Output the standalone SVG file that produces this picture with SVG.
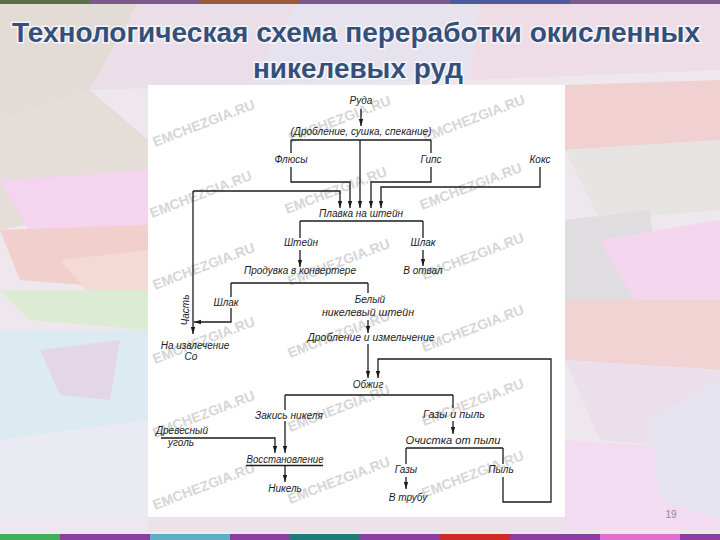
<svg xmlns="http://www.w3.org/2000/svg" width="720" height="540" viewBox="0 0 720 540">
<style>
.t{font-family:"Liberation Sans","DejaVu Sans",sans-serif;font-style:italic;font-size:10px;fill:#1c1c1c;text-anchor:middle}
.ln{fill:none;stroke:#1c1c1c;stroke-width:1.3}
.ar{fill:none;stroke:#1c1c1c;stroke-width:1.3;marker-end:url(#ah)}
.wm{font-family:"Liberation Sans","DejaVu Sans",sans-serif;font-weight:bold;font-size:14px;fill:#c9c9c9;opacity:0.75}
.ttl{font-family:"Liberation Sans Narrow","Liberation Sans","DejaVu Sans",sans-serif;font-weight:bold;font-size:28px;fill:#34507a;text-anchor:middle;stroke:#ffffff;stroke-width:3;stroke-opacity:0.7;paint-order:stroke}
</style>
<defs>
<marker id="ah" markerWidth="8" markerHeight="8" refX="7" refY="4" orient="auto" markerUnits="userSpaceOnUse">
<path d="M0,1.8 L7,4 L0,6.2 Z" fill="#1c1c1c"/>
</marker>
<clipPath id="panel"><rect x="148" y="85" width="417" height="432"/></clipPath>
</defs>

<g id="background">
<rect x="0" y="0" width="720" height="540" fill="#eee8ee"/>
<polygon points="0,0 140,0 90,90 0,120" fill="#e3dbd6"/>
<polygon points="140,0 300,0 250,85 90,90" fill="#eadfe8"/>
<polygon points="300,0 480,0 470,80 250,85" fill="#e6e2ee"/>
<polygon points="480,0 720,0 720,70 470,80" fill="#eedde6"/>
<polygon points="0,120 90,90 148,140 148,200 0,230" fill="#e4ddd8"/>
<polygon points="0,180 148,170 148,240 40,250" fill="#f4d4ee"/>
<polygon points="0,230 148,225 148,290 20,280" fill="#f0cfcc"/>
<polygon points="60,260 148,250 148,300 90,295" fill="#f3dad5"/>
<polygon points="0,290 148,290 148,330 30,320" fill="#dcecd4"/>
<polygon points="0,330 148,330 148,420 0,440" fill="#dcebf2"/>
<polygon points="40,350 120,340 110,400 60,395" fill="#e3d6e6"/>
<polygon points="0,440 148,420 148,520 0,520" fill="#eaeaf3"/>
<polygon points="565,85 720,80 720,140 565,150" fill="#f0d0d0"/>
<polygon points="565,150 720,140 720,210 600,220" fill="#e6e3e3"/>
<polygon points="565,220 650,210 660,300 565,300" fill="#e0dde0"/>
<polygon points="600,240 720,220 720,300 640,310" fill="#f4d6ee"/>
<polygon points="565,300 720,300 720,370 565,360" fill="#f1d3d3"/>
<polygon points="565,360 720,370 720,450 600,440" fill="#ecdfec"/>
<polygon points="565,440 720,450 720,530 565,530" fill="#f3dcf1"/>
<polygon points="650,420 720,380 720,520 660,500" fill="#e5e3ee"/>
<polygon points="148,517 565,517 565,532 148,532" fill="#eee2ea"/>
<rect x="0" y="0" width="720" height="4" fill="#7a5a8a"/>
<rect x="0" y="0" width="90" height="4" fill="#5c6e4a"/>
<rect x="200" y="0" width="100" height="4" fill="#9a5a3a"/>
<rect x="450" y="0" width="120" height="4" fill="#4a5a9a"/>
<rect x="0" y="534" width="720" height="6" fill="#8a3fa0"/>
<rect x="0" y="534" width="60" height="6" fill="#3fae5a"/>
<rect x="150" y="534" width="80" height="6" fill="#5ab0c0"/>
<rect x="290" y="534" width="70" height="6" fill="#1f7a7a"/>
<rect x="440" y="534" width="70" height="6" fill="#d02a2a"/>
<rect x="600" y="534" width="80" height="6" fill="#e070d0"/>
</g>

<g id="title">
<text class="ttl" x="356" y="42" textLength="688" lengthAdjust="spacingAndGlyphs">Технологическая схема переработки окисленных</text>
<text class="ttl" x="358" y="78" textLength="210" lengthAdjust="spacingAndGlyphs">никелевых руд</text>
</g>

<rect id="panel-bg" x="148" y="85" width="417" height="432" fill="#ffffff"/>

<g id="watermarks" clip-path="url(#panel)">
<text class="wm" transform="translate(155,147) rotate(-21)">EMCHEZGIA.RU</text>
<text class="wm" transform="translate(291,143) rotate(-21)">EMCHEZGIA.RU</text>
<text class="wm" transform="translate(425,142) rotate(-21)">EMCHEZGIA.RU</text>
<text class="wm" transform="translate(152,218) rotate(-21)">EMCHEZGIA.RU</text>
<text class="wm" transform="translate(287,214) rotate(-21)">EMCHEZGIA.RU</text>
<text class="wm" transform="translate(422,210) rotate(-21)">EMCHEZGIA.RU</text>
<text class="wm" transform="translate(155,290) rotate(-21)">EMCHEZGIA.RU</text>
<text class="wm" transform="translate(290,286) rotate(-21)">EMCHEZGIA.RU</text>
<text class="wm" transform="translate(424,280) rotate(-21)">EMCHEZGIA.RU</text>
<text class="wm" transform="translate(155,364) rotate(-21)">EMCHEZGIA.RU</text>
<text class="wm" transform="translate(290,358) rotate(-21)">EMCHEZGIA.RU</text>
<text class="wm" transform="translate(424,352) rotate(-21)">EMCHEZGIA.RU</text>
<text class="wm" transform="translate(155,438) rotate(-21)">EMCHEZGIA.RU</text>
<text class="wm" transform="translate(290,432) rotate(-21)">EMCHEZGIA.RU</text>
<text class="wm" transform="translate(424,426) rotate(-21)">EMCHEZGIA.RU</text>
<text class="wm" transform="translate(155,510) rotate(-21)">EMCHEZGIA.RU</text>
<text class="wm" transform="translate(290,504) rotate(-21)">EMCHEZGIA.RU</text>
<text class="wm" transform="translate(424,498) rotate(-21)">EMCHEZGIA.RU</text>
</g>

<g id="connectors">
<path class="ar" d="M361,109 V126"/>
<path class="ln" d="M291,140 H431"/>
<path class="ar" d="M360,140 V208"/>
<path class="ln" d="M291,140 V153"/>
<path class="ar" d="M291,167 V182 H350 V208"/>
<path class="ln" d="M431,140 V153"/>
<path class="ar" d="M431,167 V182 H371 V208"/>
<path class="ar" d="M540,167 V187 H381 V208"/>
<path class="ar" d="M193,191 H340 V208"/>
<path class="ar" d="M193,191 V334"/>
<path class="ln" d="M300,221 H423 M300,221 V238 M423,221 V238"/>
<path class="ar" d="M300,250 V267"/>
<path class="ar" d="M423,250 V266"/>
<path class="ln" d="M231,283 H368 M231,283 V297 M368,283 V293"/>
<path class="ar" d="M231,308 V322 H194"/>
<path class="ar" d="M368,320 V333"/>
<path class="ar" d="M368,344 V378"/>
<path class="ar" d="M503,477 V502 H551 V359 H378 V378"/>
<path class="ln" d="M285,395 H453 M285,395 V410 M453,395 V408"/>
<path class="ar" d="M285,421 V453"/>
<path class="ar" d="M453,421 V434"/>
<path class="ln" d="M406,448 H503 M406,448 V464 M503,448 V464"/>
<path class="ar" d="M406,477 V489"/>
<path class="ar" d="M161,438 H275 V453"/>
<path class="ln" d="M246,465.5 H323"/>
<path class="ar" d="M285,466 V482"/>
</g>

<g id="n-ruda"><text class="t" x="361" y="104">Руда</text></g>
<g id="n-drob1"><text class="t" x="361" y="135" textLength="141" lengthAdjust="spacingAndGlyphs">(Дробление, сушка, спекание)</text></g>
<g id="n-flyusy"><text class="t" x="291" y="163">Флюсы</text></g>
<g id="n-gips"><text class="t" x="431" y="163">Гипс</text></g>
<g id="n-koks"><text class="t" x="540" y="163">Кокс</text></g>
<g id="n-plavka"><text class="t" x="361" y="217" textLength="84" lengthAdjust="spacingAndGlyphs">Плавка на штейн</text></g>
<g id="n-shtein"><text class="t" x="301" y="246">Штейн</text></g>
<g id="n-shlak1"><text class="t" x="423" y="246">Шлак</text></g>
<g id="n-produvka"><text class="t" x="300" y="274" textLength="112" lengthAdjust="spacingAndGlyphs">Продувка в конвертере</text></g>
<g id="n-otval"><text class="t" x="423" y="274">В отвал</text></g>
<g id="n-shlak2"><text class="t" x="226" y="306">Шлак</text></g>
<g id="n-chast"><text class="t" transform="translate(189,310) rotate(-90)">Часть</text></g>
<g id="n-co"><text class="t" x="195" y="349">На извлечение</text><text class="t" x="191" y="360">Co</text></g>
<g id="n-belyi"><text class="t" x="370" y="303">Белый</text><text class="t" x="368" y="316" textLength="92" lengthAdjust="spacingAndGlyphs">никелевый штейн</text></g>
<g id="n-drob2"><text class="t" x="371" y="341" textLength="127" lengthAdjust="spacingAndGlyphs">Дробление и измельчение</text></g>
<g id="n-obzhig"><text class="t" x="368" y="388">Обжиг</text></g>
<g id="n-zakis"><text class="t" x="289" y="419" textLength="68" lengthAdjust="spacingAndGlyphs">Закись никеля</text></g>
<g id="n-gazy-pyl"><text class="t" x="454" y="418" textLength="62" lengthAdjust="spacingAndGlyphs">Газы и пыль</text></g>
<g id="n-ochistka"><text class="t" x="453" y="444" textLength="95" lengthAdjust="spacingAndGlyphs">Очистка от пыли</text></g>
<g id="n-ugol"><text class="t" x="182" y="434">Древесный</text><text class="t" x="181" y="446">уголь</text></g>
<g id="n-vosst"><text class="t" x="285" y="463" textLength="77" lengthAdjust="spacingAndGlyphs">Восстановление</text></g>
<g id="n-nikel"><text class="t" x="285" y="492">Никель</text></g>
<g id="n-gazy"><text class="t" x="406" y="473">Газы</text></g>
<g id="n-truba"><text class="t" x="408" y="501">В трубу</text></g>
<g id="n-pyl"><text class="t" x="501" y="473">Пыль</text></g>

<text x="671" y="518" font-family="Liberation Sans, sans-serif" font-size="10" fill="#8a8a8a" text-anchor="middle">19</text>
</svg>
